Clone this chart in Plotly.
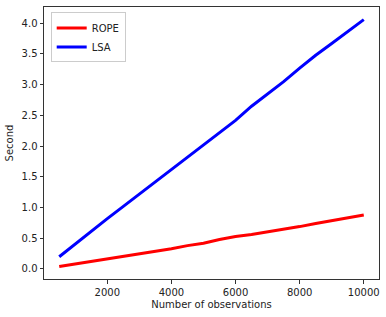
import plotly.graph_objects as go

n_obs = [500, 1000, 1500, 2000, 2500, 3000, 3500, 4000, 4500, 5000,
         5500, 6000, 6500, 7000, 7500, 8000, 8500, 9000, 9500, 10000]
rope = [0.04, 0.08, 0.12, 0.16, 0.20, 0.25, 0.29, 0.33, 0.38, 0.42,
        0.48, 0.53, 0.56, 0.60, 0.65, 0.69, 0.74, 0.79, 0.83, 0.88]
lsa = [0.20, 0.41, 0.62, 0.82, 1.02, 1.22, 1.42, 1.62, 1.83, 2.03,
       2.23, 2.42, 2.65, 2.85, 3.05, 3.27, 3.48, 3.67, 3.86, 4.06]
x_ticks = [2000, 4000, 6000, 8000, 10000]
y_ticks = [0.0, 0.5, 1.0, 1.5, 2.0, 2.5, 3.0, 3.5, 4.0]

fig = go.Figure()
fig.add_trace(go.Scatter(x=n_obs, y=rope, mode="lines", name="ROPE",
                         line=dict(color="red", width=3)))
fig.add_trace(go.Scatter(x=n_obs, y=lsa, mode="lines", name="LSA",
                         line=dict(color="blue", width=3)))

font = dict(family="DejaVu Sans", size=10, color="#222")
axis_common = dict(showgrid=False, zeroline=False, showline=True, linecolor="#333",
                   linewidth=1, mirror=True, ticks="outside", ticklen=3.5,
                   tickcolor="#333", tickfont=font, automargin=False)
fig.update_xaxes(range=[25, 10475], tickvals=x_ticks,
                 ticktext=[str(v) for v in x_ticks],
                 title=dict(text="Number of observations", font=font, standoff=4),
                 **axis_common)
fig.update_yaxes(range=[-0.163, 4.265], tickvals=y_ticks,
                 ticktext=[f"{v:.1f}" for v in y_ticks],
                 title=dict(text="Second", font=font, standoff=6),
                 **axis_common)
fig.update_layout(width=386, height=317, margin=dict(l=44, r=7, t=7, b=38),
                  plot_bgcolor="white", paper_bgcolor="white", font=font,
                  showlegend=True,
                  legend=dict(x=0.02, y=0.98, xanchor="left", yanchor="top",
                              bgcolor="rgba(255,255,255,0.8)", bordercolor="#ccc",
                              borderwidth=1, font=font, tracegroupgap=0,
                              itemwidth=30))
fig.write_html("out.html", config={"displayModeBar": False},
               post_script="document.body.style.margin='0';")
